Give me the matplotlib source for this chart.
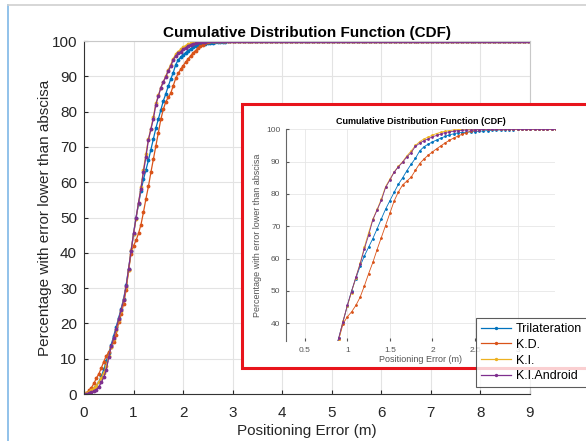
import numpy as np
import matplotlib
matplotlib.use("Agg")
import matplotlib.pyplot as plt
from matplotlib.patches import Rectangle
from matplotlib.lines import Line2D

plt.rcParams['font.family'] = ['Liberation Sans', 'DejaVu Sans']

# error thresholds (m), one sample every 0.05 m from 0 to 9
err = np.round(np.arange(0, 9.0001, 0.05), 2)

# CDF values, up to where each curve reaches 100 %
trilat = [0, 0.1, 0.4, 0.9, 1.6, 2.4, 3.4, 5.0, 7.0, 9.3,
          11.6, 14.0, 16.5, 19.0, 21.6, 24.2, 27.0, 30.8, 35.5, 40.5,
          45.4, 50.0, 53.8, 57.6, 60.8, 63.5, 66.2, 69.2, 72.3, 75.3,
          77.9, 80.5, 83.0, 85.0, 87.2, 89.2, 91.0, 93.3, 94.6, 95.4,
          96.1, 96.7, 97.3, 97.8, 98.3, 98.6, 98.9, 99.0, 99.1, 99.2,
          99.3, 99.4, 99.5, 99.6, 99.7, 99.7, 99.8, 99.8, 99.9, 99.9, 100]
kd = [0, 0.3, 1.0, 1.8, 3.0, 4.5, 5.7, 7.4, 9.2, 10.8,
      11.8, 13.2, 14.8, 16.8, 20.3, 22.8, 25.5, 29.5, 35.0, 39.8,
      42.0, 43.5, 45.5, 48.0, 51.5, 55.3, 58.8, 62.8, 66.5, 70.2,
      74.0, 77.8, 80.6, 82.8, 84.0, 85.2, 87.3, 89.4, 90.8, 92.0,
      93.0, 94.0, 94.9, 95.8, 96.6, 97.3, 97.9, 98.5, 99.0, 99.4,
      99.7, 99.9, 100]
ki = [0, 0.2, 0.6, 1.0, 1.6, 2.4, 3.3, 4.5, 6.0, 8.0,
      10.8, 13.3, 15.6, 18.2, 21.0, 23.6, 26.6, 30.2, 35.0, 40.8,
      45.2, 49.5, 54.0, 58.5, 63.5, 68.0, 72.2, 75.2, 78.5, 82.3,
      84.6, 86.8, 88.5, 90.0, 91.8, 93.3, 95.0, 96.2, 97.0, 97.6,
      98.2, 98.7, 99.1, 99.4, 99.6, 99.8, 99.9, 100]
ki_android = [0, 0, 0.3, 0.5, 0.9, 1.2, 2.0, 3.3, 4.8, 6.8,
              10.5, 13.6, 15.8, 18.5, 21.3, 23.8, 26.6, 30.5, 35.5, 40.5,
              45.5, 49.8, 54.2, 58.2, 63.0, 67.2, 72.0, 75.0, 78.0, 82.0,
              84.3, 86.7, 88.4, 89.8, 91.5, 92.8, 94.7, 95.7, 96.5, 97.0,
              97.7, 98.1, 98.6, 99.0, 99.2, 99.4, 99.6, 99.7, 99.8, 99.8,
              99.9, 99.9, 100]

names = ['Trilateration', 'K.D.', 'K.I.', 'K.I.Android']
colors = ['#0072BD', '#D95319', '#EDB120', '#7E2F8E']


def full(vals):
    # curve stays at 100 % for every larger threshold
    return np.array(vals + [100.0] * (len(err) - len(vals)))


series = [full(trilat), full(kd), full(ki), full(ki_android)]

fig = plt.figure(figsize=(5.86, 4.41), dpi=100)

# screenshot frame
fig.add_artist(Line2D([8 / 586, 8 / 586], [0, 1 - 5 / 441], color='#7fb8e6', lw=1.2))
fig.add_artist(Line2D([8 / 586, 1], [1 - 5 / 441, 1 - 5 / 441], color='#d0d0d0', lw=1.2))

ax = fig.add_axes([84 / 586, 1 - 394 / 441, 446 / 586, 353 / 441], zorder=0)
for y, c, n in zip(series, colors, names):
    ax.plot(err, y, '-', marker='.', color=c, lw=0.9, ms=3.5, label=n)
ax.set_xlim(0, 9)
ax.set_ylim(0, 100)
ax.set_xticks(range(10))
ax.set_yticks(range(0, 101, 10))
ax.grid(True, color='#e3e3e3', lw=0.8)
ax.tick_params(direction='in', length=3, labelsize=11, colors='#262626', pad=5)
ax.tick_params(axis='x', pad=8.5)
for s in ['top', 'right']:
    ax.spines[s].set_color('#c8c8c8')
for s in ['left', 'bottom']:
    ax.spines[s].set_color('#333333')
ax.set_xlabel('Positioning Error (m)', fontsize=11, color='#262626', labelpad=3)
ax.set_ylabel('Percentage with error lower than abscisa', fontsize=11, color='#262626', labelpad=0)
ax.set_title('Cumulative Distribution Function (CDF)', fontsize=11, fontweight='bold', pad=3)

# pasted zoom box
fig.add_artist(Rectangle((242 / 586, 1 - 368 / 441), 0.7, 264 / 441,
                         transform=fig.transFigure, facecolor='white',
                         edgecolor='#e8141c', lw=2.2, zorder=1))

ins = fig.add_axes([286 / 586, 1 - 341 / 441, 269 / 586, 211.7 / 441], zorder=2)
for y, c in zip(series, colors):
    ins.plot(err, y, '-', marker='.', color=c, lw=0.6, ms=2)
ins.set_xlim(0.28, 3.44)
ins.set_ylim(34.5, 100)
ins.set_xticks([0.5, 1, 1.5, 2, 2.5, 3])
ins.set_xticklabels(['0.5', '1', '1.5', '2', '2.5', '3'])
ins.set_yticks(range(40, 101, 10))
ins.grid(True, color='#e6e6e6', lw=0.6)
ins.tick_params(direction='in', length=2, labelsize=6, colors='#555555', pad=4)
for s in ['top', 'right', 'bottom']:
    ins.spines[s].set_visible(False)
ins.spines['left'].set_color('#666666')
ins.set_xlabel('Positioning Error (m)', fontsize=6.5, color='#555555', labelpad=1)
ins.set_ylabel('Percentage with error lower than abscisa', fontsize=6.5, color='#555555', labelpad=3)
ins.set_title('Cumulative Distribution Function (CDF)', fontsize=6.5, fontweight='bold', pad=4)

handles, labels = ax.get_legend_handles_labels()
leg = fig.legend(handles, labels, loc='upper left',
                 bbox_to_anchor=(476 / 586, 1 - 318 / 441), fontsize=9,
                 frameon=True, fancybox=False, edgecolor='#333333',
                 borderaxespad=0, handlelength=2.4, labelspacing=0.3,
                 borderpad=0.4, handletextpad=0.4, markerscale=0.8)
leg.set_zorder(5)
leg.get_frame().set_linewidth(0.8)

fig.savefig('out.png', dpi=100)
